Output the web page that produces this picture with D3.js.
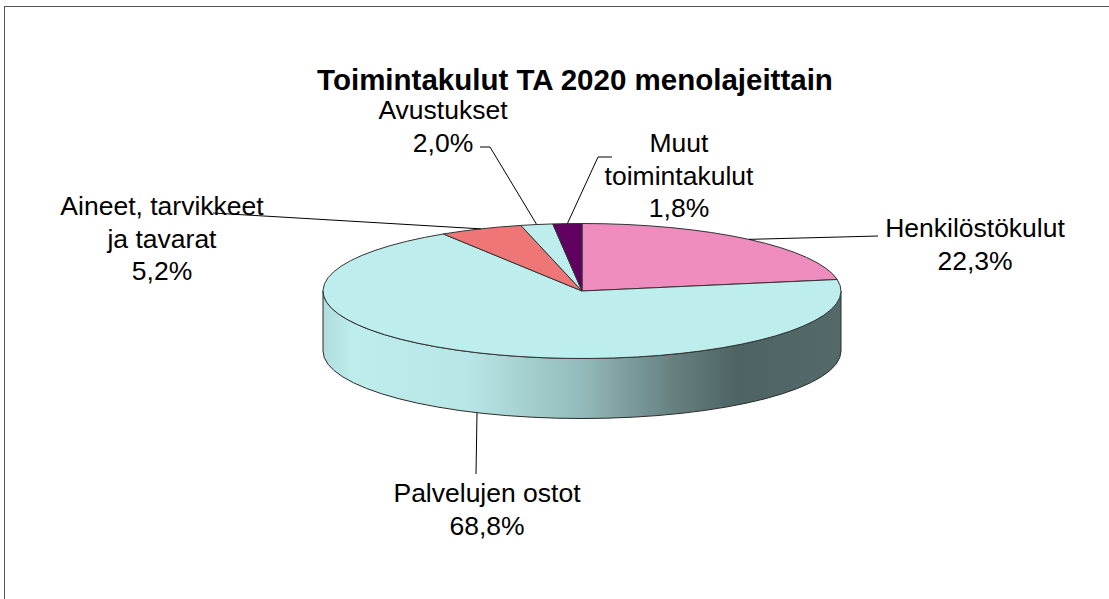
<!DOCTYPE html>
<html lang="fi">
<head>
<meta charset="UTF-8">
<title>Toimintakulut TA 2020 menolajeittain</title>
<script src="https://cdnjs.cloudflare.com/ajax/libs/d3/7.9.0/d3.min.js"></script>
<style>
  body { margin: 0; background: #fff; }
  svg text { font-family: "Liberation Sans", Arial, sans-serif; fill: #000; }
</style>
</head>
<body>
<svg id="chart" width="1109" height="599"></svg>
<script>
// data
const categories = ["Henkilöstökulut", "Palvelujen ostot", "Aineet, tarvikkeet ja tavarat", "Avustukset", "Muut toimintakulut"];
const values = [22.3, 68.8, 5.2, 2.0, 1.8];
const labelLines = [["Henkilöstökulut"], ["Palvelujen ostot"], ["Aineet, tarvikkeet", "ja tavarat"], ["Avustukset"], ["Muut", "toimintakulut"]];
const colors = ["#ED8CBD", "#BDEDED", "#EE7676", "#BDEDED", "#600060"];
const title = "Toimintakulut TA 2020 menolajeittain";

// layout of labels (centre x, first baseline y) and leader bends
const labelLayout = [
  { x: 975, y: 237, leader: [[878, 236]] },
  { x: 487, y: 502, leader: [[476, 474]] },
  { x: 162, y: 215, leader: [[213, 213]] },
  { x: 443, y: 119, leader: [[490, 147], [480, 147]] },
  { x: 679, y: 152, leader: [[598, 157], [612, 157]] }
];

const cx = 582, cy = 291, rx = 259, ry = 67.5, depth = 60;
const lineH = 32.5;

const svg = d3.select("#chart");

// outer frame (runs past right and bottom edge)
svg.append("rect")
  .attr("x", 4.5).attr("y", 6.5)
  .attr("width", 1200).attr("height", 700)
  .attr("fill", "none").attr("stroke", "#555").attr("stroke-width", 1);

svg.append("text")
  .attr("x", 575).attr("y", 90)
  .attr("text-anchor", "middle")
  .style("font-size", "29.5px").style("font-weight", "bold")
  .text(title);

const pie = d3.pie().sort(null).value(d => d).startAngle(0).endAngle(2 * Math.PI);
const arcs = pie(values);

// point on the ellipse for angle a (0 = top, clockwise)
const pt = (a, dy = 0) => [cx + rx * Math.sin(a), cy - ry * Math.cos(a) + dy];

const defs = svg.append("defs");
const grad = defs.append("linearGradient")
  .attr("id", "sideGrad")
  .attr("gradientUnits", "userSpaceOnUse")
  .attr("x1", cx - rx).attr("x2", cx + rx).attr("y1", 0).attr("y2", 0);
[[0, "#B0DCDC"], [0.06, "#BEEDED"], [0.28, "#B8E6E6"], [0.5, "#93BABA"], [0.68, "#667F7F"], [0.8, "#4E6464"], [1, "#546A6A"]]
  .forEach(s => grad.append("stop").attr("offset", s[0]).attr("stop-color", s[1]));

// side walls: visible part is the front half (a between PI/2 and 3PI/2)
arcs.forEach((d, i) => {
  const a0 = Math.max(d.startAngle, Math.PI / 2);
  const a1 = Math.min(d.endAngle, 3 * Math.PI / 2);
  if (a1 <= a0) return;
  const p0 = pt(a0), p1 = pt(a1);
  const large = (a1 - a0) > Math.PI ? 1 : 0;
  const path = d3.path();
  path.moveTo(p0[0], p0[1]);
  path.lineTo(p0[0], p0[1] + depth);
  const b1 = pt(a1, depth);
  // bottom edge drawn with an svg arc command
  const dStr = path.toString() +
    `A${rx},${ry} 0 ${large} 1 ${b1[0]},${b1[1]}` +
    `L${p1[0]},${p1[1]}` +
    `A${rx},${ry} 0 ${large} 0 ${p0[0]},${p0[1]}Z`;
  svg.append("path")
    .attr("d", dStr)
    .attr("fill", i === 1 ? "url(#sideGrad)" : colors[i])
    .attr("stroke", "#2a2a2a").attr("stroke-width", 1);
});

// top faces: circular arcs squashed into an ellipse
const arc = d3.arc().innerRadius(0).outerRadius(rx);
svg.append("g")
  .attr("transform", `translate(${cx},${cy}) scale(1,${ry / rx})`)
  .selectAll("path")
  .data(arcs)
  .join("path")
  .attr("d", arc)
  .attr("fill", (d, i) => colors[i])
  .attr("stroke", "#333")
  .attr("stroke-width", 1)
  .attr("vector-effect", "non-scaling-stroke");

// leader lines
arcs.forEach((d, i) => {
  const mid = (d.startAngle + d.endAngle) / 2;
  const inFront = Math.cos(mid) < 0;
  const start = pt(mid, inFront ? depth : 0);
  const pts = [start].concat(labelLayout[i].leader);
  svg.append("path")
    .attr("d", d3.line()(pts))
    .attr("fill", "none")
    .attr("stroke", "#000").attr("stroke-width", 1);
});

// labels
const fmt = v => d3.format(".1f")(v).replace(".", ",") + "%";
arcs.forEach((d, i) => {
  const lay = labelLayout[i];
  const t = svg.append("text")
    .attr("text-anchor", "middle")
    .style("font-size", "26.5px");
  labelLines[i].concat([fmt(values[i])]).forEach((s, k) => {
    t.append("tspan").attr("x", lay.x).attr("y", lay.y + k * lineH).text(s);
  });
});
</script>
</body>
</html>
